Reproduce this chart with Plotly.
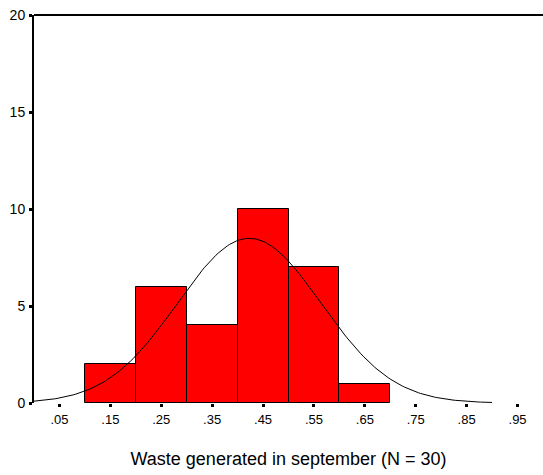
import numpy as np
import plotly.graph_objects as go

bin_centers = [0.15, 0.25, 0.35, 0.45, 0.55, 0.65]
counts = [2, 6, 4, 10, 7, 1]
bin_width = 0.1
x_tickvals = [0.05, 0.15, 0.25, 0.35, 0.45, 0.55, 0.65, 0.75, 0.85, 0.95]
x_ticktext = [".05", ".15", ".25", ".35", ".45", ".55", ".65", ".75", ".85", ".95"]
y_tickvals = [0, 5, 10, 15, 20]
fit_mean = 0.423
fit_sd = 0.141
n_total = 30

xs = np.linspace(0.0, 0.9, 200)
ys = n_total * bin_width / (fit_sd * np.sqrt(2 * np.pi)) * np.exp(-0.5 * ((xs - fit_mean) / fit_sd) ** 2)

fig = go.Figure()
fig.add_trace(go.Bar(x=bin_centers, y=counts, width=bin_width,
                     marker=dict(color="#FF0000", line=dict(color="black", width=1))))
fig.add_trace(go.Scatter(x=xs, y=ys, mode="lines", line=dict(color="black", width=1)))

font = "Arial, Liberation Sans, sans-serif"
fig.update_layout(
    width=543, height=475,
    margin=dict(l=34, r=0, t=15, b=72),
    paper_bgcolor="white", plot_bgcolor="white",
    showlegend=False,
    font=dict(family=font, color="black"),
    bargap=0,
    xaxis=dict(range=[0, 1.0], tickvals=x_tickvals, ticktext=x_ticktext,
               ticks="outside", ticklen=3, tickwidth=3, tickcolor="black",
               ticklabelstandoff=1,
               showgrid=False, zeroline=False, showline=False,
               tickfont=dict(size=13, family=font),
               title=dict(text="Waste generated in september (N = 30)",
                          font=dict(size=18, family=font), standoff=26)),
    yaxis=dict(range=[0, 20], tickvals=y_tickvals,
               ticks="outside", ticklen=3, tickwidth=3, tickcolor="black",
               ticklabelstandoff=1,
               showgrid=False, zeroline=False, showline=True, linecolor="black", linewidth=2,
               tickfont=dict(size=14, family=font)),
    shapes=[dict(type="line", xref="paper", yref="paper", x0=0, x1=1, y0=1, y1=1,
                 line=dict(color="black", width=2))],
)
fig.write_html("out.html")
